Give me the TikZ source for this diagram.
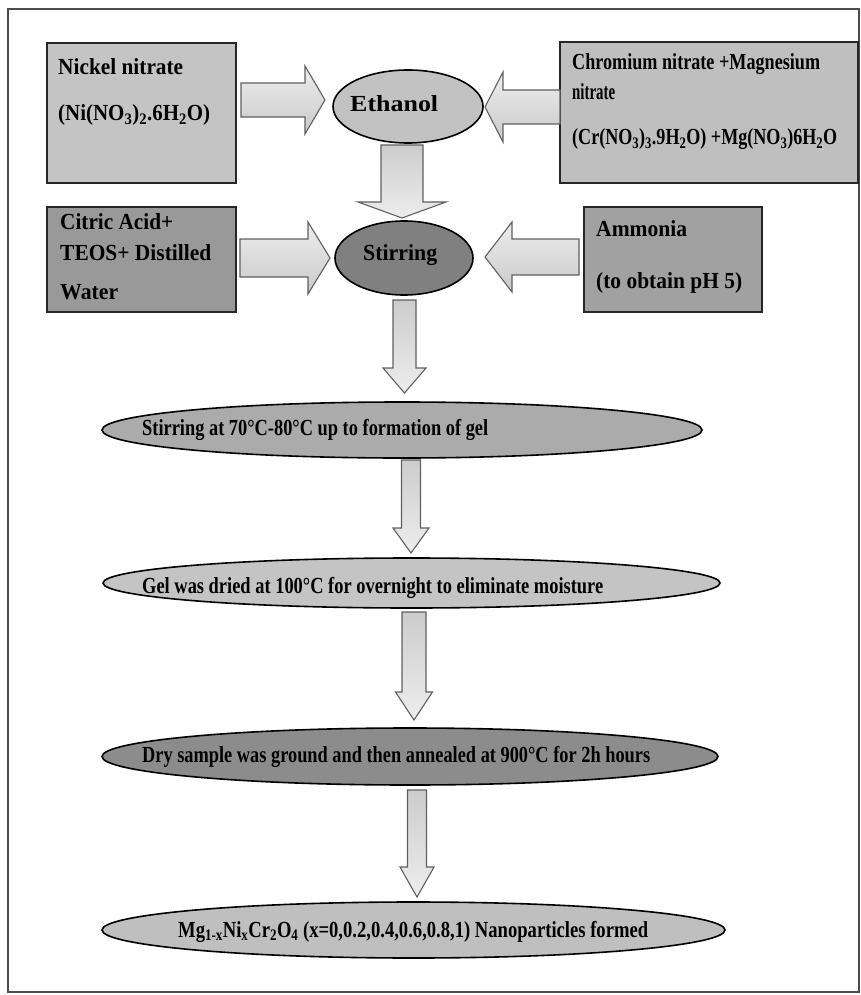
\documentclass[tikz,border=0pt]{standalone}
\usepackage{fontspec}
\setmainfont{Liberation Serif}
\usetikzlibrary{shapes.geometric}
\definecolor{cNi}{gray}{0.77}
\definecolor{cCr}{gray}{0.75}
\definecolor{cCi}{gray}{0.60}
\definecolor{cAm}{gray}{0.63}
\definecolor{cEt}{gray}{0.76}
\definecolor{cSt}{gray}{0.50}
\definecolor{cEa}{gray}{0.67}
\definecolor{cEb}{gray}{0.77}
\definecolor{cEc}{gray}{0.55}
\definecolor{cEd}{gray}{0.75}
\newcommand\fw[2]{\resizebox{#1pt}{\height}{#2}}
\newcommand\harrow[6]{\path[harr] (#1,{#3-#4}) -- ({#2-#6},{#3-#4}) -- ({#2-#6},{#3-#5}) -- (#2,#3) -- ({#2-#6},{#3+#5}) -- ({#2-#6},{#3+#4}) -- (#1,{#3+#4}) -- cycle;}
\newcommand\varrow[6]{\path[varr] ({#1-#4},#2) -- ({#1-#4},{#3-#6}) -- ({#1-#5},{#3-#6}) -- (#1,#3) -- ({#1+#5},{#3-#6}) -- ({#1+#4},{#3-#6}) -- ({#1+#4},#2) -- cycle;}
\tikzset{
  boxn/.style={draw=black!85, line width=1.6pt, rectangle, inner sep=0pt},
  ell/.style={draw=black, line width=1.6pt, ellipse, inner sep=0pt},
  harr/.style={draw=gray!75!black, line width=1.1pt, top color=gray!14, bottom color=gray!42},
  varr/.style={draw=gray!75!black, line width=1.1pt, top color=gray!40, bottom color=gray!14},
  txt/.style={anchor=west, inner sep=0pt, text height=15pt, text depth=5pt,
    font=\fontsize{23}{26}\selectfont\bfseries}
}
\begin{document}
\begin{tikzpicture}[x=1pt,y=-1pt]
\useasboundingbox (0,0) rectangle (861,995);
\fill[white] (0,0) rectangle (861,995);
\draw[gray!60!black, line width=1.1pt] (8,9) rectangle (859,992);
% boxes
\node[boxn, fill=cNi, minimum width=189pt, minimum height=140pt] (ni) at (141.5,113) {};
\node[boxn, fill=cCr, minimum width=298pt, minimum height=141pt] (cr) at (709,112.5) {};
\node[boxn, fill=cCi, minimum width=189pt, minimum height=105pt] (ci) at (141.5,259.5) {};
\node[boxn, fill=cAm, minimum width=178pt, minimum height=105pt] (am) at (673,259.5) {};
% ellipses
\node[ell, fill=cEt, minimum width=150pt, minimum height=73pt] (eth) at (408,106.5) {};
\node[ell, fill=cSt, minimum width=138pt, minimum height=74pt] (sti) at (404,258) {};
\node[ell, fill=cEa, minimum width=600pt, minimum height=56pt] (s70) at (402,430) {};
\node[ell, fill=cEb, minimum width=617pt, minimum height=50pt] (gel) at (411.5,583) {};
\node[ell, fill=cEc, minimum width=616pt, minimum height=57pt] (dry) at (410,756.5) {};
\node[ell, fill=cEd, minimum width=623pt, minimum height=56pt] (mg) at (413.5,930) {};
% block arrows
\harrow{241}{325}{100}{17}{34}{20}
\harrow{560}{485}{107}{17}{35}{-18}
\varrow{402}{145}{218}{21}{44}{16}
\harrow{240}{330}{258}{19}{36}{22}
\harrow{579}{485}{257}{18}{35}{-27}
\varrow{404.5}{300}{393}{11.5}{21.5}{25}
\varrow{411}{460}{553}{9.5}{18}{25}
\varrow{414}{612}{720}{12}{18.5}{28}
\varrow{417}{790}{897}{9.5}{17}{30}
% texts
\node[txt] (t1) at (58,70) {\fw{125}{Nickel nitrate}};
\node[txt] (t2) at (58,116) {\fw{152}{(Ni(NO\textsubscript{3})\textsubscript{2}.6H\textsubscript{2}O)}};
\node[txt] (t3) at (350,107) {\fw{88}{Ethanol}};
\node[txt] (t4) at (572,65) {\fw{248}{Chromium nitrate +Magnesium}};
\node[txt] (t5) at (572,95) {\fw{43}{nitrate}};
\node[txt] (t6) at (572,140) {\fw{265}{(Cr(NO\textsubscript{3})\textsubscript{3}.9H\textsubscript{2}O) +Mg(NO\textsubscript{3})6H\textsubscript{2}O}};
\node[txt] (t7) at (60,224) {\fw{113}{Citric Acid+}};
\node[txt] (t8) at (60,255) {\fw{151}{TEOS+ Distilled}};
\node[txt] (t9) at (60,294) {\fw{58}{Water}};
\node[txt] (t10) at (363,255) {\fw{74}{Stirring}};
\node[txt] (t11) at (596,231) {\fw{91}{Ammonia}};
\node[txt] (t12) at (596,283) {\fw{146}{(to obtain pH 5)}};
\node[txt] (t13) at (142,430) {\fw{346}{Stirring at 70°C-80°C up to formation of gel}};
\node[txt] (t14) at (142,588) {\fw{461}{Gel was dried at 100°C for overnight to eliminate moisture}};
\node[txt] (t15) at (142,757) {\fw{508}{Dry sample was ground and then annealed at 900°C for 2h hours}};
\node[txt] (t16) at (178,932) {\fw{470}{Mg\textsubscript{1-x}Ni\textsubscript{x}Cr\textsubscript{2}O\textsubscript{4} (x=0,0.2,0.4,0.6,0.8,1) Nanoparticles formed}};
\end{tikzpicture}
\end{document}
